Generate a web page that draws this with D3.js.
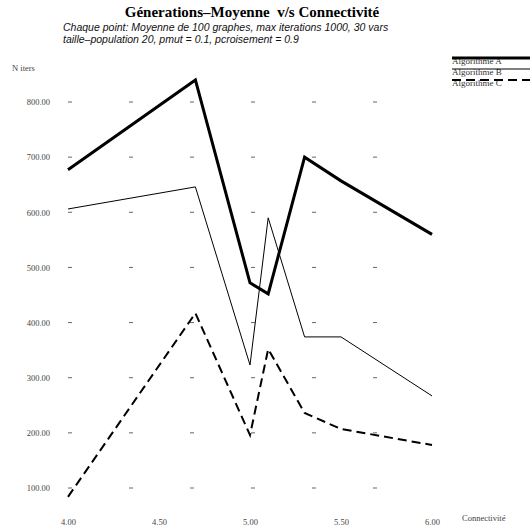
<!DOCTYPE html>
<html><head><meta charset="utf-8">
<script src="https://cdn.jsdelivr.net/npm/d3@7"></script>
<style>body{margin:0;background:#fff} text{white-space:pre}</style>
</head><body>
<svg id="c" width="532" height="532"></svg>
<script>
const connectivity = [4.0, 4.7, 5.0, 5.1, 5.3, 5.5, 6.0];
const algoA = [677, 840, 472, 452, 700, 657, 560];
const algoB = [606, 646, 323, 590, 374, 374, 267];
const algoC = [84, 417, 196, 352, 236, 207, 178];
const seriesNames = ["Algorithme A", "Algorithme B", "Algorithme C"];
const yTicks = [100, 200, 300, 400, 500, 600, 700, 800];
const xTicks = [4.0, 4.5, 5.0, 5.5, 6.0];

const svg = d3.select("#c");
const x = d3.scaleLinear().domain([4, 6]).range([68, 432]);
const y = d3.scaleLinear().domain([100, 800]).range([488, 102]);

// titles
svg.append("text").attr("x", 252).attr("y", 17).attr("text-anchor", "middle")
  .attr("font-family", "Liberation Serif, serif").attr("font-weight", "bold").attr("font-size", 15)
  .text("Génerations–Moyenne  v/s Connectivité");
const sub = svg.append("g").attr("font-family", "Liberation Sans, Arial, sans-serif")
  .attr("font-style", "italic").attr("font-size", 10.5).attr("fill", "#111");
sub.append("text").attr("x", 63).attr("y", 31).text("Chaque point: Moyenne de 100 graphes, max iterations 1000, 30 vars");
sub.append("text").attr("x", 63).attr("y", 43).text("taille–population 20, pmut = 0.1, pcroisement = 0.9");

// sparse grid remnants
svg.append("g").selectAll("line").data(yTicks).join("line")
  .attr("x1", x(4)).attr("x2", x(6)).attr("y1", d => y(d)).attr("y2", d => y(d))
  .attr("stroke", "#666").attr("stroke-width", 1).attr("stroke-dasharray", "4,57");

// axes
const yAxis = svg.append("g").attr("transform", "translate(50,0)")
  .call(d3.axisLeft(y).tickValues(yTicks).tickFormat(d3.format(".2f")).tickSize(0).tickPadding(0));
yAxis.select(".domain").remove();
yAxis.selectAll("text").attr("font-family", "Liberation Serif, serif").attr("font-size", 8.5).attr("fill", "#444");

const xAxis = svg.append("g").attr("transform", "translate(0,519)")
  .call(d3.axisBottom(x).tickValues(xTicks).tickFormat(d3.format(".2f")).tickSize(0).tickPadding(0));
xAxis.select(".domain").remove();
xAxis.selectAll("text").attr("font-family", "Liberation Serif, serif").attr("font-size", 8.5).attr("fill", "#444");

svg.append("text").attr("x", 12).attr("y", 71).attr("font-family", "Liberation Serif, serif")
  .attr("font-size", 8.5).attr("fill", "#444").text("N iters");
svg.append("text").attr("x", 462).attr("y", 521).attr("font-family", "Liberation Serif, serif")
  .attr("font-size", 8.5).attr("fill", "#444").text("Connectivité");

// lines
const styles = [
  {w: 3, dash: null},
  {w: 1, dash: null},
  {w: 2, dash: "9,5"}
];
const allSeries = [algoA, algoB, algoC];
const line = d3.line().x((d, i) => x(connectivity[i])).y(d => y(d));
allSeries.forEach((s, k) => {
  svg.append("path").datum(s).attr("d", line).attr("fill", "none")
    .attr("stroke", "#000").attr("stroke-width", styles[k].w)
    .attr("stroke-dasharray", styles[k].dash).attr("stroke-linejoin", "miter");
});

// legend
const lg = svg.append("g");
seriesNames.forEach((n, k) => {
  const yy = 64 + k * 11;
  lg.append("text").attr("x", 452).attr("y", yy).attr("font-family", "Liberation Serif, serif")
    .attr("font-size", 9).attr("fill", "#333").text(n);
  lg.append("line").attr("x1", 452).attr("x2", 530).attr("y1", yy - 6).attr("y2", yy - 6)
    .attr("stroke", "#000").attr("stroke-width", styles[k].w).attr("stroke-dasharray", styles[k].dash);
});
</script>
</body></html>
